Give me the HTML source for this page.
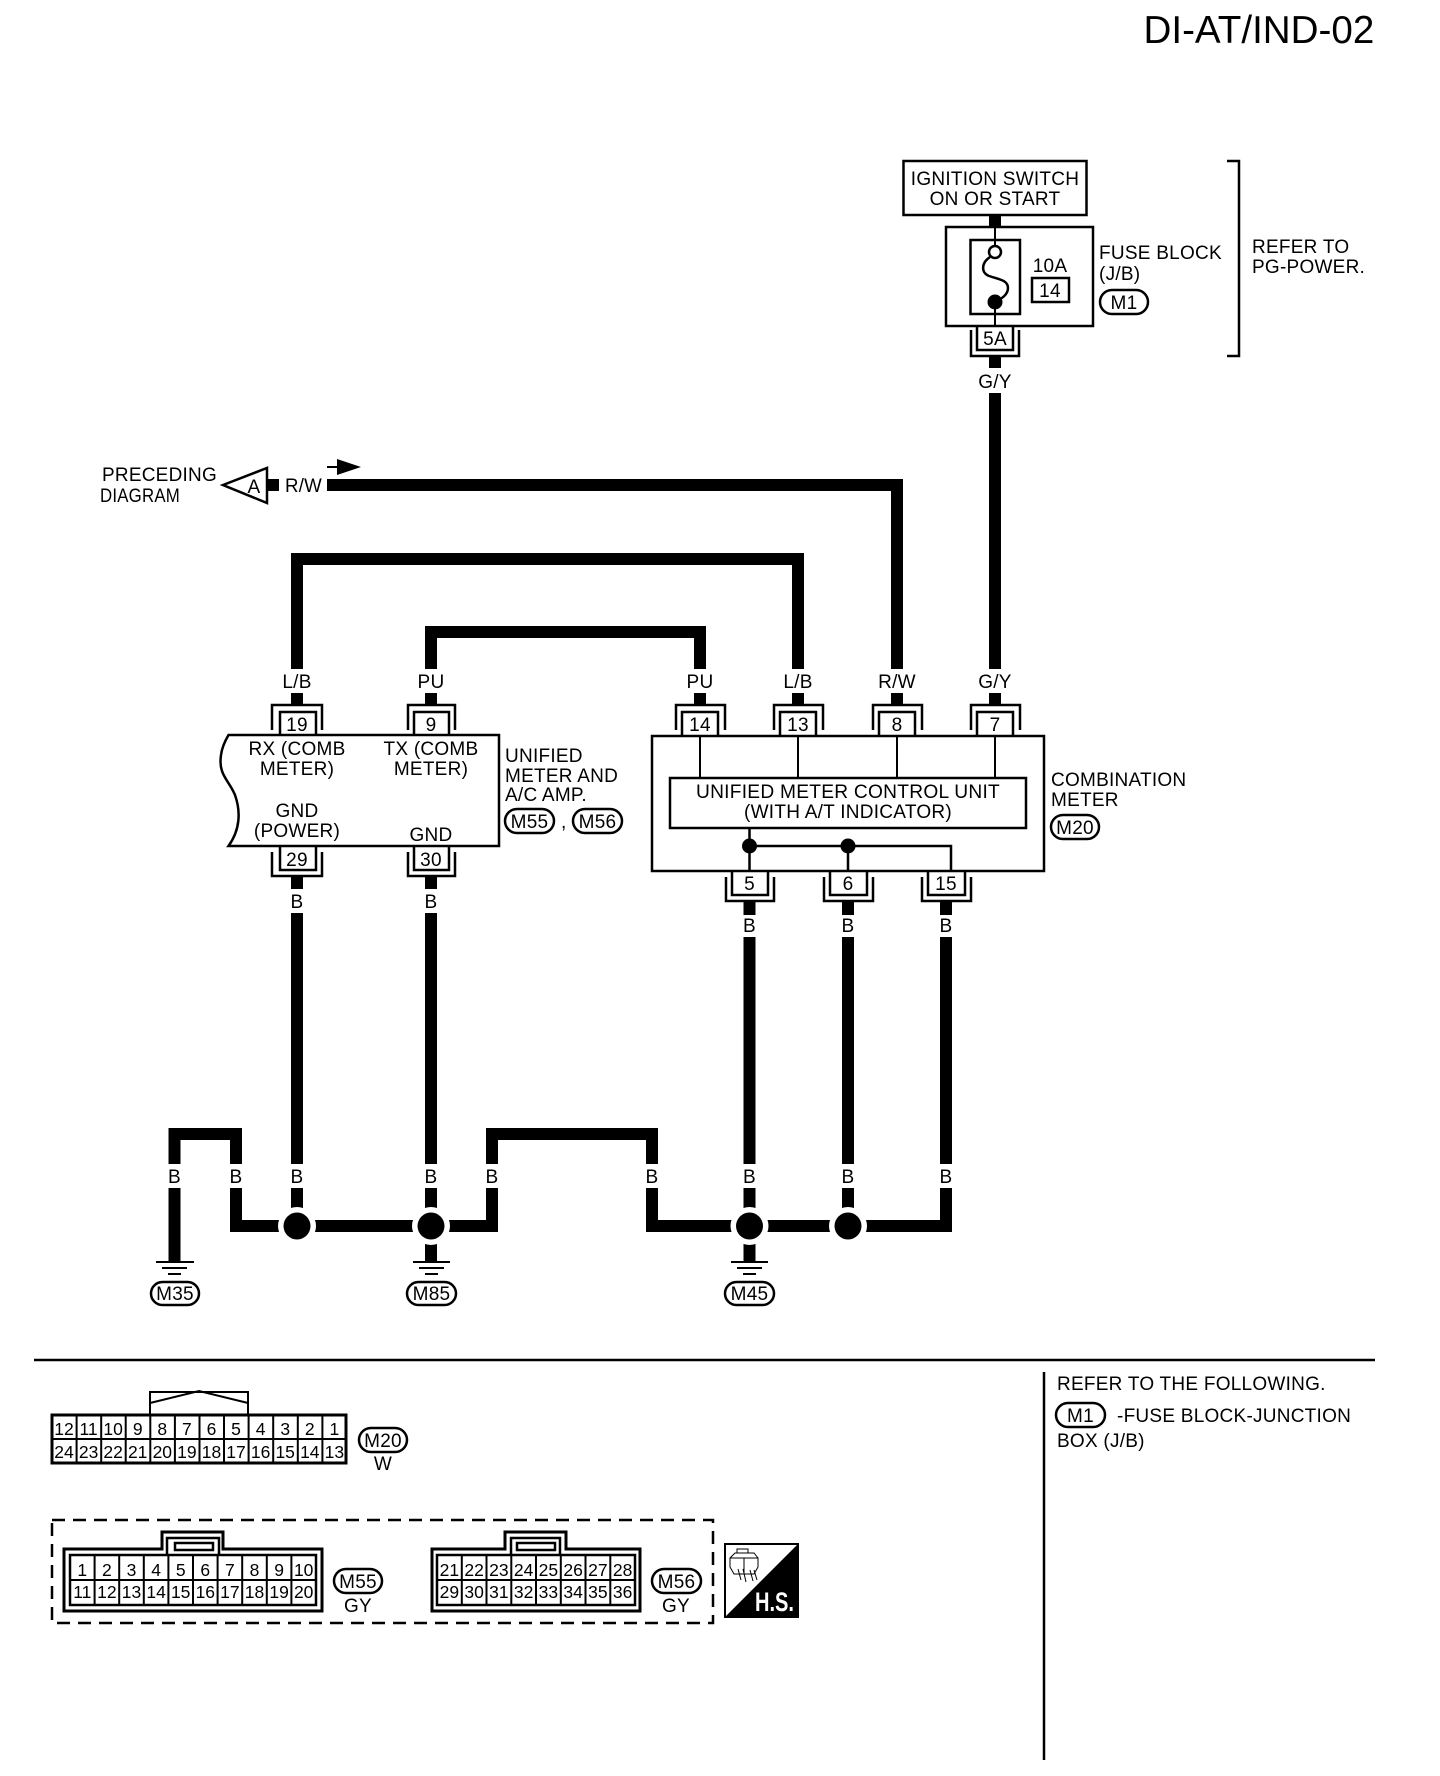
<!DOCTYPE html>
<html><head><meta charset="utf-8"><style>
html,body{margin:0;padding:0;background:#fff}
svg{display:block}
text{font-family:"Liberation Sans",sans-serif;font-size:19px;fill:#000;letter-spacing:.25px}
.m{text-anchor:middle}
.n{font-size:17.500px;text-anchor:middle;letter-spacing:0}
.w{fill:none;stroke:#000;stroke-width:12;stroke-linejoin:miter}
.l{fill:none;stroke:#000;stroke-width:2.5}
.t{fill:none;stroke:#000;stroke-width:2}
.p{fill:#fff;stroke:#000;stroke-width:2.5}
</style></head><body>
<svg width="1440" height="1776" viewBox="0 0 1440 1776" xmlns="http://www.w3.org/2000/svg">
<rect width="1440" height="1776" fill="#fff"/>
<text x="1143.500" y="43" style="font-size:38.600px;letter-spacing:0">DI-AT/IND-02</text>

<!-- Ignition / fuse -->
<rect x="903.500" y="161" width="183" height="54" class="l"/>
<text x="995" y="185" class="m">IGNITION SWITCH</text>
<text x="995" y="205" class="m">ON OR START</text>
<path d="M995,216V227" class="w"/>
<rect x="946" y="227" width="147" height="99" class="l"/>
<rect x="970.500" y="240" width="49.500" height="74" class="l"/>
<path d="M995,227V246M995,302V326" class="t"/>
<circle cx="995" cy="252" r="6" fill="#fff" stroke="#000" stroke-width="2.5"/>
<path d="M990,257C981,263 981,273 989,276C998,279 1008,280 1008,288C1008,295 1001,299 995,302" fill="none" stroke="#000" stroke-width="2.500"/>
<circle cx="995" cy="302" r="7.500" fill="#000"/>
<text x="1050" y="272" class="m">10A</text>
<rect x="1032" y="278" width="37" height="24" class="l"/>
<text x="1050" y="297" class="m">14</text>
<text x="1099" y="259">FUSE BLOCK</text>
<text x="1099" y="280">(J/B)</text>
<rect x="1100" y="290" width="48" height="24" rx="12" class="p"/>
<text x="1124" y="309" class="m">M1</text>
<path d="M1227,161H1239V356H1227" class="l"/>
<text x="1252" y="253">REFER TO</text>
<text x="1252" y="273">PG-POWER.</text>

<!-- 5A connector -->
<path d="M971,330V356H1019V330" class="l"/>
<path d="M977,326V350H1013V326" class="l"/>
<text x="995" y="345" class="m">5A</text>
<path d="M995,357V368M995,393V669" class="w"/>
<text x="995" y="388" class="m">G/Y</text>

<!-- Preceding -->
<text x="102" y="481" textLength="115" lengthAdjust="spacingAndGlyphs">PRECEDING</text>
<text x="100" y="502" textLength="80" lengthAdjust="spacingAndGlyphs">DIAGRAM</text>
<path d="M223,485L267,468V503Z" fill="#fff" stroke="#000" stroke-width="2.500"/>
<text x="254" y="493" class="m">A</text>
<path d="M267,485H279" class="w"/>
<text x="285" y="492" textLength="37" lengthAdjust="spacingAndGlyphs">R/W</text>
<path d="M327,485H897V669" class="w"/>
<path d="M327,467H340" class="t"/>
<path d="M337,459L361,467L337,475Z" fill="#000"/>

<!-- Long wires -->
<path d="M297,669V559H798V669" class="w"/>
<path d="M431,669V632H700V669" class="w"/>
<text x="297" y="688" class="m">L/B</text>
<text x="431" y="688" class="m">PU</text>
<text x="700" y="688" class="m">PU</text>
<text x="798" y="688" class="m">L/B</text>
<text x="897" y="688" class="m">R/W</text>
<text x="995" y="688" class="m">G/Y</text>
<path d="M297,693V705M431,693V705M700,693V705M798,693V705M897,693V705M995,693V705" class="w"/>

<!-- Top connectors -->
<path d="M272,730V705H322V730M280,735V712H316V735" class="l"/>
<path d="M408,730V705H455V730M414,735V712H449V735" class="l"/>
<path d="M676,730V705H725V730M682,736V712H718V736" class="l"/>
<path d="M774,730V705H823V730M780,736V712H816V736" class="l"/>
<path d="M873,730V705H922V730M879,736V712H915V736" class="l"/>
<path d="M971,730V705H1020V730M977,736V712H1013V736" class="l"/>
<text x="297" y="731" class="m">19</text>
<text x="431" y="731" class="m">9</text>
<text x="700" y="731" class="m">14</text>
<text x="798" y="731" class="m">13</text>
<text x="897" y="731" class="m">8</text>
<text x="995" y="731" class="m">7</text>

<!-- Unified meter body -->
<path d="M228.500,735H499V846H228.500C240,830 241,812 235,795C229,780 218,775 221,755C222,747 225,741 228.500,735Z" class="l"/>
<text x="297" y="755" class="m">RX (COMB</text>
<text x="297" y="775" class="m">METER)</text>
<text x="431" y="755" class="m">TX (COMB</text>
<text x="431" y="775" class="m">METER)</text>
<text x="297" y="817" class="m">GND</text>
<text x="297" y="837" class="m">(POWER)</text>
<text x="431" y="841" class="m">GND</text>
<text x="505" y="762">UNIFIED</text>
<text x="505" y="782">METER AND</text>
<text x="505" y="801">A/C AMP.</text>
<rect x="505" y="809" width="49" height="24" rx="12" class="p"/>
<text x="529.500" y="828" class="m">M55</text>
<text x="561" y="828">,</text>
<rect x="573" y="809" width="49" height="24" rx="12" class="p"/>
<text x="597.500" y="828" class="m">M56</text>

<!-- Bottom connectors left -->
<path d="M272,852V876H322V852M280,846V870H316V846" class="l"/>
<path d="M408,852V876H455V852M414,846V870H449V846" class="l"/>
<text x="297" y="866" class="m">29</text>
<text x="431" y="866" class="m">30</text>
<path d="M297,877V889M431,877V889" class="w"/>
<text x="297" y="908" class="m">B</text>
<text x="431" y="908" class="m">B</text>

<!-- Combination meter -->
<rect x="652" y="736" width="392" height="135" class="l"/>
<path d="M700,736V778M798,736V778M897,736V778M995,736V778" class="t"/>
<rect x="670" y="778" width="356" height="50" class="l"/>
<text x="848" y="798" class="m" textLength="304" lengthAdjust="spacingAndGlyphs">UNIFIED METER CONTROL UNIT</text>
<text x="848" y="818" class="m" textLength="208" lengthAdjust="spacingAndGlyphs">(WITH A/T INDICATOR)</text>
<path d="M749.500,828V871M848,846V871M749.500,846H951V871" class="l"/>
<circle cx="749.500" cy="846" r="7.500" fill="#000"/>
<circle cx="848" cy="846" r="7.500" fill="#000"/>
<text x="1051" y="786">COMBINATION</text>
<text x="1051" y="806">METER</text>
<rect x="1051" y="815" width="48" height="24" rx="12" class="p"/>
<text x="1075" y="834" class="m">M20</text>
<path d="M726,877V901H774V877M732,871V895H768V871" class="l"/>
<path d="M824,877V901H873V877M830,871V895H867V871" class="l"/>
<path d="M922,877V901H971V877M928,871V895H965V871" class="l"/>
<text x="749.500" y="890" class="m">5</text>
<text x="848" y="890" class="m">6</text>
<text x="946" y="890" class="m">15</text>
<path d="M749.500,902V915M848,902V915M946,902V915" class="w"/>
<text x="749.500" y="932" class="m">B</text>
<text x="848" y="932" class="m">B</text>
<text x="946" y="932" class="m">B</text>

<!-- Verticals to ground network -->
<path d="M297,913V1164M431,913V1164M749.500,937V1164M848,937V1164M946,937V1164" class="w"/>
<path d="M174.500,1262V1188M174.500,1164V1134H236V1164" class="w"/>
<path d="M236,1188V1226H297" class="w"/>
<path d="M297,1188V1226M431,1188V1226M749.500,1188V1226M848,1188V1226" class="w"/>
<path d="M297,1226H431" class="w"/>
<path d="M431,1226H492V1188M492,1164V1134H652V1164M652,1188V1226H946V1188" class="w"/>
<path d="M431,1226V1262M749.500,1226V1262" class="w"/>
<g fill="#fff">
<circle cx="297" cy="1226" r="19"/><circle cx="431" cy="1226" r="19"/><circle cx="749.500" cy="1226" r="19"/><circle cx="848" cy="1226" r="19"/>
</g>
<g fill="#000">
<circle cx="297" cy="1226" r="13.500"/><circle cx="431" cy="1226" r="13.500"/><circle cx="749.500" cy="1226" r="13.500"/><circle cx="848" cy="1226" r="13.500"/>
</g>
<text x="174.500" y="1183" class="m">B</text>
<text x="236" y="1183" class="m">B</text>
<text x="297" y="1183" class="m">B</text>
<text x="431" y="1183" class="m">B</text>
<text x="492" y="1183" class="m">B</text>
<text x="652" y="1183" class="m">B</text>
<text x="749.500" y="1183" class="m">B</text>
<text x="848" y="1183" class="m">B</text>
<text x="946" y="1183" class="m">B</text>

<!-- Grounds -->
<path d="M156,1262H194M162,1268H187M168,1274H181" class="t"/>
<path d="M413,1262H450M419,1268H444M425,1274H438" class="t"/>
<path d="M731,1262H768M737,1268H762M743,1274H756" class="t"/>
<rect x="151" y="1282" width="48" height="23" rx="11.500" class="p"/>
<text x="175" y="1300" class="m">M35</text>
<rect x="407" y="1282" width="49" height="23" rx="11.500" class="p"/>
<text x="431.500" y="1300" class="m">M85</text>
<rect x="725" y="1282" width="49" height="23" rx="11.500" class="p"/>
<text x="749.500" y="1300" class="m">M45</text>

<!-- Divider -->
<path d="M34,1360H1375" class="l"/>
<path d="M1044,1372V1760" class="l"/>
<text x="1057" y="1390">REFER TO THE FOLLOWING.</text>
<rect x="1056" y="1403" width="49" height="24" rx="12" class="p"/>
<text x="1080.500" y="1422" class="m">M1</text>
<text x="1117" y="1422">-FUSE BLOCK-JUNCTION</text>
<text x="1057" y="1447">BOX (J/B)</text>

<!-- M20 connector -->
<path d="M150,1414V1392H248V1414M150,1403L199,1391L248,1403" class="t"/>
<rect x="52" y="1415" width="294" height="48" fill="none" stroke="#000" stroke-width="3"/>
<path d="M52,1439H346M76.600,1415V1463M101.200,1415V1463M125.700,1415V1463M150.300,1415V1463M174.900,1415V1463M199.500,1415V1463M224,1415V1463M248.600,1415V1463M273.200,1415V1463M297.800,1415V1463M322.400,1415V1463" class="t"/>
<g>
<text class="n" x="64" y="1435">12</text><text class="n" x="88.600" y="1435">11</text><text class="n" x="113.100" y="1435">10</text><text class="n" x="137.700" y="1435">9</text><text class="n" x="162.300" y="1435">8</text><text class="n" x="186.900" y="1435">7</text><text class="n" x="211.500" y="1435">6</text><text class="n" x="236" y="1435">5</text><text class="n" x="260.600" y="1435">4</text><text class="n" x="285.200" y="1435">3</text><text class="n" x="309.800" y="1435">2</text><text class="n" x="334.400" y="1435">1</text>
<text class="n" x="64" y="1458">24</text><text class="n" x="88.600" y="1458">23</text><text class="n" x="113.100" y="1458">22</text><text class="n" x="137.700" y="1458">21</text><text class="n" x="162.300" y="1458">20</text><text class="n" x="186.900" y="1458">19</text><text class="n" x="211.500" y="1458">18</text><text class="n" x="236" y="1458">17</text><text class="n" x="260.600" y="1458">16</text><text class="n" x="285.200" y="1458">15</text><text class="n" x="309.800" y="1458">14</text><text class="n" x="334.400" y="1458">13</text>
</g>
<rect x="359" y="1428" width="48" height="24" rx="12" class="p"/>
<text x="383" y="1447" class="m">M20</text>
<text x="383" y="1470" class="m">W</text>

<!-- Dashed frame -->
<rect x="52" y="1520" width="661" height="103" fill="none" stroke="#000" stroke-width="2.500" stroke-dasharray="13 8"/>

<!-- M55 -->
<path d="M64,1549H162V1532H223V1549H322V1611H64Z" fill="none" stroke="#000" stroke-width="3"/>
<rect x="70" y="1555" width="246" height="50" class="l"/>
<path d="M167,1555V1538H219V1555" class="l"/>
<rect x="175" y="1543" width="38" height="7" class="l"/>
<path d="M70,1580H316M94.600,1555V1605M119.200,1555V1605M143.800,1555V1605M168.400,1555V1605M193,1555V1605M217.600,1555V1605M242.200,1555V1605M266.800,1555V1605M291.400,1555V1605" class="t"/>
<g>
<text class="n" x="82.300" y="1576">1</text><text class="n" x="106.900" y="1576">2</text><text class="n" x="131.500" y="1576">3</text><text class="n" x="156.100" y="1576">4</text><text class="n" x="180.700" y="1576">5</text><text class="n" x="205.300" y="1576">6</text><text class="n" x="229.900" y="1576">7</text><text class="n" x="254.500" y="1576">8</text><text class="n" x="279.100" y="1576">9</text><text class="n" x="303.700" y="1576">10</text>
<text class="n" x="82.300" y="1598">11</text><text class="n" x="106.900" y="1598">12</text><text class="n" x="131.500" y="1598">13</text><text class="n" x="156.100" y="1598">14</text><text class="n" x="180.700" y="1598">15</text><text class="n" x="205.300" y="1598">16</text><text class="n" x="229.900" y="1598">17</text><text class="n" x="254.500" y="1598">18</text><text class="n" x="279.100" y="1598">19</text><text class="n" x="303.700" y="1598">20</text>
</g>
<rect x="334" y="1569" width="48" height="24" rx="12" class="p"/>
<text x="358" y="1588" class="m">M55</text>
<text x="358" y="1612" class="m">GY</text>

<!-- M56 -->
<path d="M432,1549H505V1532H566V1549H640V1611H432Z" fill="none" stroke="#000" stroke-width="3"/>
<rect x="437" y="1555" width="198" height="50" class="l"/>
<path d="M511,1555V1538H560V1555" class="l"/>
<rect x="517" y="1543" width="38" height="7" class="l"/>
<path d="M437,1580H635M461.800,1555V1605M486.500,1555V1605M511.300,1555V1605M536,1555V1605M560.800,1555V1605M585.500,1555V1605M610.300,1555V1605" class="t"/>
<g>
<text class="n" x="449.400" y="1576">21</text><text class="n" x="474.100" y="1576">22</text><text class="n" x="498.900" y="1576">23</text><text class="n" x="523.600" y="1576">24</text><text class="n" x="548.400" y="1576">25</text><text class="n" x="573.100" y="1576">26</text><text class="n" x="597.900" y="1576">27</text><text class="n" x="622.600" y="1576">28</text>
<text class="n" x="449.400" y="1598">29</text><text class="n" x="474.100" y="1598">30</text><text class="n" x="498.900" y="1598">31</text><text class="n" x="523.600" y="1598">32</text><text class="n" x="548.400" y="1598">33</text><text class="n" x="573.100" y="1598">34</text><text class="n" x="597.900" y="1598">35</text><text class="n" x="622.600" y="1598">36</text>
</g>
<rect x="652" y="1569" width="49" height="24" rx="12" class="p"/>
<text x="676.500" y="1588" class="m">M56</text>
<text x="676" y="1612" class="m">GY</text>

<!-- H.S. -->
<rect x="725" y="1544" width="73" height="73" fill="#fff" stroke="#000" stroke-width="2"/>
<path d="M799,1543V1618H724Z" fill="#000"/>
<text x="755" y="1611" textLength="39" lengthAdjust="spacingAndGlyphs" style="font-size:27px;font-weight:bold;fill:#fff;letter-spacing:0">H.S.</text>
<path d="M730,1558H758V1567L754,1574H734L730,1567ZM730,1558L735,1553H754L758,1558M744,1558V1574M737,1553V1549H748V1553M738,1569L741,1580M743,1569L746,1582M750,1570L753,1581M754,1570L757,1580" fill="none" stroke="#000" stroke-width="1"/>
</svg>
</body></html>
